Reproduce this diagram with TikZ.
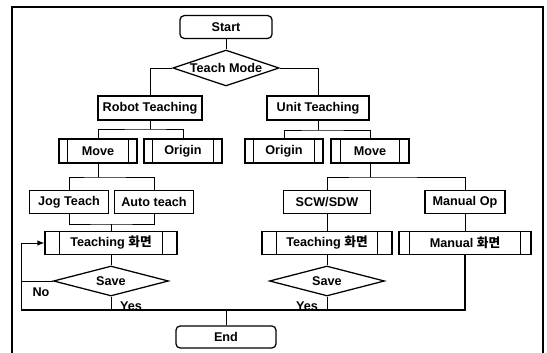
\documentclass[tikz,border=0pt]{standalone}
\usepackage{fontspec}
\setmainfont{Liberation Sans}
\newfontfamily\krfont{Noto Sans CJK KR}
\usetikzlibrary{shapes.geometric}
\begin{document}
\begin{tikzpicture}[x=0.025cm, y=-0.025cm,
    every node/.style={font=\fontsize{9}{10}\selectfont\bfseries},
    term/.style={draw, rounded corners=3pt, line width=0.9pt, minimum height=0.57cm},
    box/.style={draw, line width=0.9pt, minimum height=0.6cm, inner sep=0pt},
    test/.style={draw, diamond, inner sep=0pt, line width=0.9pt},
    wire/.style={line width=0.7pt}]
    % \helpgrid{547}{353}
    \useasboundingbox (0,0) rectangle (547,353);
    \draw[line width=1.4pt] (12,360) -- (12,7) -- (543,7) -- (543,360);

    \node[term, minimum width=2.3cm] (start) at (226,27) {Start};
    \node[test, aspect=2.94, minimum width=2.65cm, minimum height=0.9cm] (mode) at (226,68) {Teach Mode};
    \node[box, minimum width=2.6cm] (robot) at (150,108) {Robot Teaching};
    \node[box, minimum width=2.55cm] (unit) at (318,108) {Unit Teaching};

    \node[box, minimum width=1.95cm] (moveL) at (98,151) {Move};
    \node[box, minimum width=1.95cm] (originL) at (183,151) {Origin};
    \node[box, minimum width=1.95cm] (originR) at (284,151) {Origin};
    \node[box, minimum width=1.95cm] (moveR) at (370,151) {Move};

    \node[box, minimum width=1.975cm, minimum height=0.56cm] (jog) at (69,202) {Jog Teach};
    \node[box, minimum width=1.975cm, minimum height=0.56cm] (auto) at (154,202) {Auto teach};
    \node[box, minimum width=2.175cm, minimum height=0.56cm] (scw) at (327,202) {SCW/SDW};
    \node[box, minimum width=2cm, minimum height=0.56cm] (manop) at (465,202) {Manual Op};

    \node[box, minimum width=3.3cm, minimum height=0.58cm] (teachL) at (111,243) {Teaching {\krfont 화면}};
    \node[box, minimum width=3.25cm, minimum height=0.58cm] (teachR) at (327,243) {Teaching {\krfont 화면}};
    \node[box, minimum width=3.3cm, minimum height=0.58cm] (mscr) at (465,243) {Manual {\krfont 화면}};

    \node[test, aspect=3.83, minimum width=2.875cm, minimum height=0.75cm] (saveL) at (111,281) {Save};
    \node[test, aspect=3.83, minimum width=2.875cm, minimum height=0.75cm] (saveR) at (327,281) {Save};
    \node (no) at (41,292) {No};
    \node (yesL) at (131,306) {Yes};
    \node (yesR) at (307,306) {Yes};

    \node[term, minimum width=2.5cm, minimum height=0.55cm] (end) at (226,337) {End};

    % side bars of the process boxes
    \foreach \n/\d in {moveL/9, originL/9, originR/9, moveR/10, teachL/15, teachR/15, mscr/11} {
        \draw[line width=0.9pt] ([xshift=\d*0.025cm]\n.north west) -- ([xshift=\d*0.025cm]\n.south west);
        \draw[line width=0.9pt] ([xshift=-\d*0.025cm]\n.north east) -- ([xshift=-\d*0.025cm]\n.south east);
    }

    \draw[wire] (start) -- (mode);
    \draw[wire] (mode.west) -| (robot);
    \draw[wire] (mode.east) -| (unit);

    \coordinate (rbus) at (150,129);
    \coordinate (ubus) at (318,130);
    \draw[wire] (robot) -- (rbus);
    \draw[wire] (moveL) |- (rbus) -| (originL);
    \draw[wire] (unit) -- (ubus);
    \draw[wire] (originR) |- (ubus) -| (moveR);

    \coordinate (lbus) at (98,177);
    \coordinate (rbus2) at (370,177);
    \draw[wire] (moveL) -- (lbus);
    \draw[wire] (jog) |- (lbus) -| (auto);
    \draw[wire] (moveR) -- (rbus2);
    \draw[wire] (scw) |- (rbus2) -| (manop);

    \coordinate (jbus) at (111,224);
    \draw[wire] (jog) |- (jbus) -| (auto);
    \draw[wire] (jbus) -- (teachL);
    \draw[wire] (scw) -- (teachR);
    \draw[wire] (manop) -- (mscr);
    \draw[wire] (teachL) -- (saveL);
    \draw[wire] (teachR) -- (saveR);

    % back to teaching and down to end
    \coordinate (loop) at (21,310);
    \coordinate (mend) at (mscr.south |- loop);
    \draw[wire, -latex] (loop) |- (teachL);
    \draw[wire] (saveL.west) -- (saveL.west -| loop);
    \draw[line width=1.1pt] (loop) -- (mend) -- (mscr);
    \draw[wire] (saveL.south) -- (saveL.south |- loop);
    \draw[wire] (saveR.south) -- (saveR.south |- loop);
    \draw[wire] (end.north |- loop) -- (end);
\end{tikzpicture}
\end{document}
